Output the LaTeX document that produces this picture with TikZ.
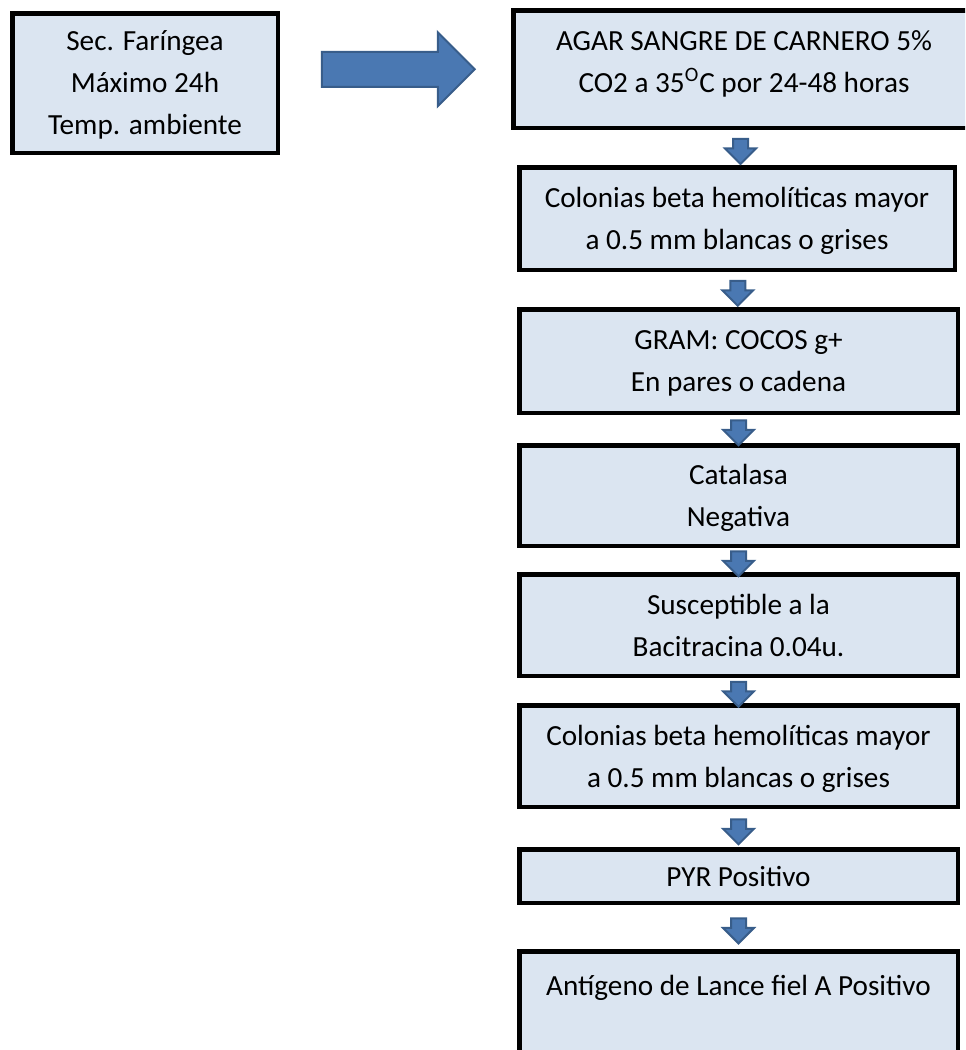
\documentclass[tikz,border=0pt]{standalone}
\usepackage{fontspec}
\setmainfont{Carlito}
\usepackage{xcolor}
\usetikzlibrary{shapes.arrows,calc}
\definecolor{boxfill}{HTML}{DBE5F1}
\definecolor{flowblue}{HTML}{4A78B2}
\definecolor{flowedge}{HTML}{385D8A}

\begin{document}
\begin{tikzpicture}[
    x=0.5pt, y=-0.5pt,
    stepbox/.style={draw=black, fill=boxfill, line width=2.25pt, align=center,
      font=\fontsize{14.6}{21}\selectfont, inner sep=0pt, text depth=0pt},
    bigarrow/.style={single arrow, fill=flowblue, draw=flowedge, line width=1pt,
      inner xsep=0pt, inner ysep=8.25pt, minimum height=76.5pt, minimum width=36pt,
      single arrow head extend=9.75pt},
    downarrow/.style={single arrow, fill=flowblue, draw=flowedge, line width=1pt,
      inner xsep=0pt, inner ysep=3.25pt, minimum height=12.5pt, minimum width=14.5pt,
      single arrow head extend=4pt, rotate=-90},
  ]
  \useasboundingbox (0,0) rectangle (965,1050);
  \begin{scope}
  \clip (0,0) rectangle (965,1050);

  % sample box
  \node[stepbox, minimum width=132.75pt, minimum height=69.75pt] (src) at (145,83)
    {Sec. Faríngea\\Máximo 24h\\Temp. ambiente};

  % culture box, runs off the right edge
  \node[stepbox, anchor=north, minimum width=230.75pt, text height=40.9pt, text depth=17.9pt]
    (agar) at (744,8.25)
    {AGAR SANGRE DE CARNERO 5\%\\CO2 a 35\textsuperscript{O}C por 24-48 horas};

  % identification steps
  \node[stepbox, minimum width=217.75pt, minimum height=51.25pt] (colonias) at (737,218.5)
    {Colonias beta hemolíticas mayor\\a 0.5 mm blancas o grises};
  \node[stepbox, minimum width=219.25pt, minimum height=51.75pt] (gram) at (738.5,361)
    {GRAM: COCOS g+\\En pares o cadena};
  \node[stepbox, minimum width=219.25pt, minimum height=50.25pt] (catalasa) at (738.5,495.5)
    {Catalasa\\Negativa};
  \node[stepbox, minimum width=219.25pt, minimum height=50.75pt] (bacitra) at (738.5,625)
    {Susceptible a la\\Bacitracina 0.04u.};
  \node[stepbox, minimum width=219.25pt, minimum height=50.75pt] (colonias2) at (738.5,756)
    {Colonias beta hemolíticas mayor\\a 0.5 mm blancas o grises};
  \node[stepbox, minimum width=219.25pt, minimum height=26.75pt] (pyr) at (738.5,876)
    {PYR Positivo};

  % last box, cut by the bottom edge
  \node[stepbox, anchor=north, minimum width=219.25pt, text height=21.9pt, text depth=43.5pt]
    (antigeno) at (738.5,949.25)
    {Antígeno de Lance fiel A Positivo};

  % block arrows
  \node[bigarrow, xshift=-3pt] (go) at ($(src.east |- agar.west)!0.5!(agar.west)$) {};
  \foreach \a/\b in {agar/colonias, colonias/gram, gram/catalasa, catalasa/bacitra,
      bacitra/colonias2, colonias2/pyr, pyr/antigeno} {
    \node[downarrow] (arr-\a) at ($(\a.south)!0.5!(\b.north)$) {};
  }
  \end{scope}
\end{tikzpicture}
\end{document}
